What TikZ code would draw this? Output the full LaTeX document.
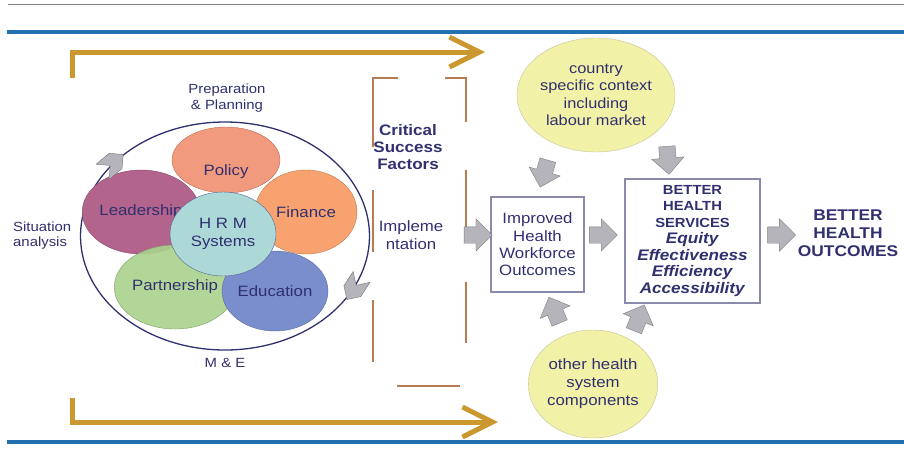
\documentclass[tikz,border=0pt]{standalone}
\usepackage{fontspec}
\setmainfont{Liberation Sans}[FakeStretch=1.12]
\usetikzlibrary{arrows.meta,shapes.geometric,shapes.arrows,shapes.symbols,calc}

\definecolor{navy}{RGB}{48,48,112}
\definecolor{bline}{RGB}{34,112,176}
\definecolor{gold}{RGB}{202,152,46}
\definecolor{brk}{RGB}{184,124,84}
\definecolor{arrgray}{RGB}{180,180,186}
\definecolor{boxedge}{RGB}{138,138,170}
\definecolor{yfill}{RGB}{241,241,168}
\definecolor{yedge}{RGB}{196,196,150}
\definecolor{cLead}{RGB}{178,100,140}
\definecolor{cPol}{RGB}{240,140,108}
\definecolor{cFin}{RGB}{248,162,112}
\definecolor{cPart}{RGB}{170,210,140}
\definecolor{cEdu}{RGB}{122,142,206}
\definecolor{cHrm}{RGB}{172,216,216}

\newcommand{\labfont}{\fontsize{13.3}{15.5}\selectfont}
\newcommand{\txtfont}{\fontsize{15}{17.3}\selectfont}
\newcommand{\csffont}{\bfseries\fontsize{15.2}{17}\selectfont}
\newcommand{\bhsfont}{\bfseries\fontsize{15.3}{16.5}\selectfont}
\newcommand{\bigfont}{\bfseries\fontsize{15.5}{18}\selectfont}

\begin{document}
\begin{tikzpicture}
    [
    x=1pt,y=-1pt,
    petal/.style={ellipse,draw=#1!75!black,fill=#1,inner sep=0pt,text=navy,font=\txtfont},
    yball/.style={ellipse,draw=yedge,fill=yfill,inner sep=0pt,text=navy,font=\txtfont,align=center},
    box/.style={rectangle,draw=boxedge,line width=1.2pt,fill=white,inner sep=0pt,text=navy,align=center},
    garrow/.style={single arrow,draw=arrgray!70!black,fill=arrgray,minimum height=28pt,minimum width=32pt,single arrow head extend=8pt,inner xsep=0pt,inner ysep=8pt,sloped,allow upside down},
    cycarrow/.style={signal,signal to=east,signal from=west,draw=arrgray!65!black,fill=arrgray,minimum width=27pt,minimum height=20pt,inner sep=0pt},
    goldarr/.style={draw=gold,line width=5pt,-{Straight Barb[length=30pt,width=30pt]}},
    bracket/.style={draw=brk,line width=1.5pt},
    lab/.style={text=navy,font=\labfont,align=center,inner sep=0pt}
    ]
    \useasboundingbox (0,0) rectangle (904,467);
    \draw [gray,line width=1pt] (8,4) -- (904,4);
    \draw [bline,line width=4pt] (7,32) -- (904,32);
    \draw [bline,line width=4pt] (7,442) -- (904,442);

    % gold arrows
    \coordinate (gts) at (72,78);
    \coordinate (gte) at (485,52);
    \coordinate (gbs) at (72,398);
    \coordinate (gbe) at (498,422);
    \draw [goldarr] (gts) |- (gte);
    \draw [goldarr] (gbs) |- (gbe);

    % HRM cycle
    \node (cyc) at (225,236) [ellipse,draw=navy,line width=1.3pt,minimum width=289pt,minimum height=228pt,inner sep=0pt] {};
    \node (lead) at (141,212) [petal=cLead,minimum width=98pt,minimum height=84pt] {Leadership};
    \node (fin) at (306,212) [petal=cFin,minimum width=102pt,minimum height=84pt] {Finance};
    \node (pol) at (226,160) [petal=cPol,minimum width=108pt,minimum height=66pt,fill opacity=0.88,text opacity=1] {};
    \node (poltxt) at ([yshift=-12pt]pol) [lab,font=\txtfont] {Policy};
    \node (part) at (175,287) [petal=cPart,minimum width=104pt,minimum height=84pt,fill opacity=0.9,text opacity=1] {Partnership};
    \node (edu) at (275,291) [petal=cEdu,minimum width=106pt,minimum height=80pt] {Education};
    \node (hrm) at (223,234) [petal=cHrm,draw=navy!70!cHrm,minimum width=106pt,minimum height=84pt,align=center] {H R M\\Systems};
    \node (ca1) at (cyc.147) [cycarrow,rotate=40] {};
    \node (ca2) at (cyc.-22) [cycarrow,rotate=237] {};

    \node (prep) at (227,98) [lab] {Preparation\\\& Planning};
    \node (sit) at (13,235.5) [lab,anchor=west,align=left] {Situation\\analysis};
    \node (me) at (225,363) [lab] {M \& E};

    % bracket
    \draw [bracket] (398,78) -- (373,78) -- (373,147);
    \draw [bracket] (373,190) -- (373,252);
    \draw [bracket] (373,300) -- (373,362);
    \draw [bracket] (445,78) -- (466,78) -- (466,122);
    \draw [bracket] (466,170) -- (466,227);
    \draw [bracket] (466,282) -- (466,343);
    \draw [bracket] (397,386) -- (460,386);
    \node (csf) at (408,147) [text=navy,font=\csffont,align=center] {Critical\\Success\\Factors};
    \node (impl) at (411,235) [text=navy,font=\txtfont,align=center] {Impleme\\ntation};

    % outcomes chain
    \node (imp) at (537.5,244.5) [box,minimum width=93pt,minimum height=95pt,font=\txtfont] {Improved\\Health\\Workforce\\Outcomes};
    \node (bhs) at (692.5,241) [box,minimum width=135pt,minimum height=124pt,font=\bhsfont] {{\fontsize{13.2}{15}\selectfont BETTER}\\{\fontsize{13.2}{15}\selectfont HEALTH}\\{\fontsize{13.2}{15}\selectfont SERVICES}\\\textit{Equity}\\\textit{Effectiveness}\\\textit{Efficiency}\\\textit{Accessibility}};
    \node (bho) at (848,233) [text=navy,font=\bigfont,align=center] {BETTER\\HEALTH\\OUTCOMES};
    \node (ctry) at (596,95) [yball,minimum width=132pt,minimum height=114pt,font=\fontsize{14.6}{17.5}\selectfont] {country\\specific context\\including\\labour market};
    \node (oth) at (593,384) [yball,minimum width=126pt,minimum height=108pt,font=\fontsize{15}{18}\selectfont] {other health\\system\\components};

    \coordinate (row) at (0,235);
    \coordinate (brkr) at (466,235);
    \path (brkr) -- node[garrow,pos=0.33] (a1) {} (imp.west |- brkr);
    \path (imp.east |- row) -- node[garrow,pos=0.37] (a2) {} (bhs.west |- row);
    \path (bhs.east |- row) -- node[garrow] (a3) {} (bho.west |- row);
    \path (ctry.228) -- node[garrow] (a4) {} (imp.north);
    \path (ctry.-22) -- node[garrow,pos=0.6] (a5) {} ($(bhs.north west)!0.33!(bhs.north east)$);
    \path (oth.120) -- node[garrow] (a6) {} ($(imp.south west)!0.6!(imp.south east)$);
    \path (oth.50) -- node[garrow] (a7) {} ($(bhs.south west)!0.15!(bhs.south east)$);
\end{tikzpicture}
\end{document}
